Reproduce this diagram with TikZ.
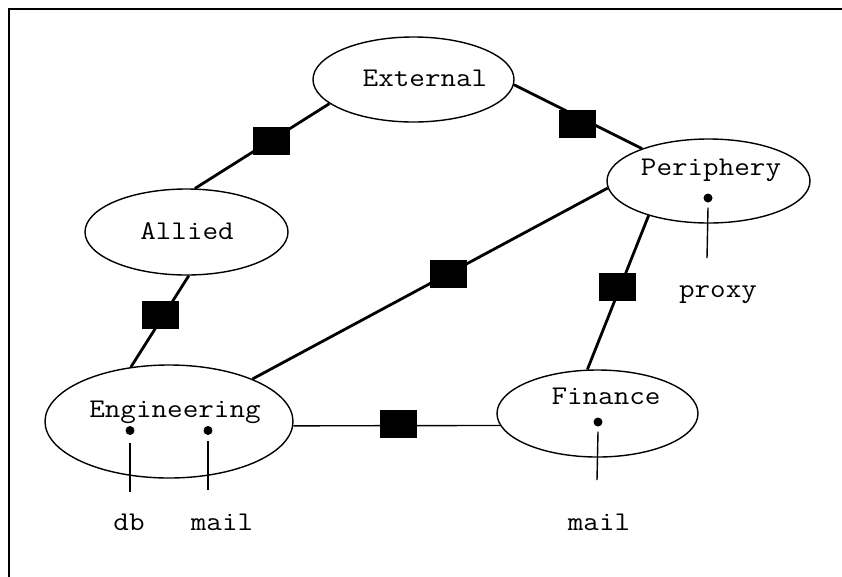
\documentclass[tikz,border=0pt]{standalone}
\usepackage{fontspec}
\setmonofont{Latin Modern Mono}[FakeStretch=1.12]
\usetikzlibrary{shapes.geometric}

\tikzset{
  netzone/.style={draw, ellipse, inner sep=0pt, line width=1.4pt},
  tag/.style={font=\ttfamily\fontsize{27}{30}\selectfont, anchor=base, inner sep=0pt},
  gate/.style={fill=black, draw=black, line width=0.6pt, rectangle, inner sep=0pt,
               minimum width=36pt, minimum height=27pt},
  link/.style={line width=2.8pt},
  thinlink/.style={line width=1.4pt},
  host/.style={circle, fill=black, inner sep=0pt, minimum size=9pt},
  stem/.style={line width=1.4pt}
}

\begin{document}
\begin{tikzpicture}[x=1pt, y=-1pt]
  \useasboundingbox (0,0) rectangle (842,576);

  % outer frame (runs off the page on the right and bottom)
  \draw[line width=2pt] (9,600) -- (9,9) -- (870,9);

  % network zones
  \node[netzone, minimum width=201pt, minimum height=85pt] (external) at (413.5,79.5) {};
  \node[netzone, minimum width=203pt, minimum height=84pt] (periphery) at (708.5,181) {};
  \node[netzone, minimum width=203pt, minimum height=86pt] (allied) at (186.5,232) {};
  \node[netzone, minimum width=248pt, minimum height=113pt] (engineering) at (169,421.5) {};
  \node[netzone, minimum width=201pt, minimum height=87pt] (finance) at (597.5,413.5) {};

  % zone names
  \node[tag] (externalT) at (425,86) {External};
  \node[tag] (peripheryT) at (711,175) {Periphery};
  \node[tag] (alliedT) at (187,239) {Allied};
  \node[tag] (engineeringT) at (175,417) {Engineering};
  \node[tag] (financeT) at (606,404) {Finance};

  % firewalls on the links
  \node[gate] (g1) at (271.5,140.5) {};
  \node[gate] (g2) at (577,123.5) {};
  \node[gate] (g3) at (160,314.5) {};
  \node[gate] (g4) at (448.5,273.5) {};
  \node[gate] (g5) at (617,287) {};
  \node[gate] (g6) at (398,423.5) {};

  % links between zones
  \draw[link] (external.-164.1) -- (allied.79.1);
  \draw[link] (external.-3.1) -- (periphery.154.7);
  \draw[link] (allied.-87.9) -- (engineering.125.6);
  \draw[link] (periphery.-176.6) -- (engineering.27.1);
  \draw[link] (periphery.-150.4) -- (finance.103.6);
  \draw[thinlink] (engineering.-2.5) -- (finance.187.7);

  % hosts inside the zones
  \node[host] (dbH) at (130,430.5) {};
  \node[host] (mailH) at (208,430.5) {};
  \node[host] (proxyH) at (708,198) {};
  \node[host] (finmailH) at (598,422) {};

  \coordinate (dbE) at (130,492);
  \coordinate (mailE) at (208,490);
  \coordinate (proxyE) at (707,258);
  \coordinate (finmailE) at (597,480);

  \draw[stem] ([yshift=-8pt]dbH.south) -- (dbE);
  \draw[stem] ([yshift=-6pt]mailH.south) -- (mailE);
  \draw[stem] ([yshift=-5pt]proxyH.south) -- (proxyE);
  \draw[stem] ([yshift=-5pt]finmailH.south) -- (finmailE);

  % host names
  \node[tag] (db) at (129,530) {db};
  \node[tag] (mail) at (222,530) {mail};
  \node[tag] (proxy) at (718,297) {proxy};
  \node[tag] (finmail) at (599,530) {mail};
\end{tikzpicture}
\end{document}
